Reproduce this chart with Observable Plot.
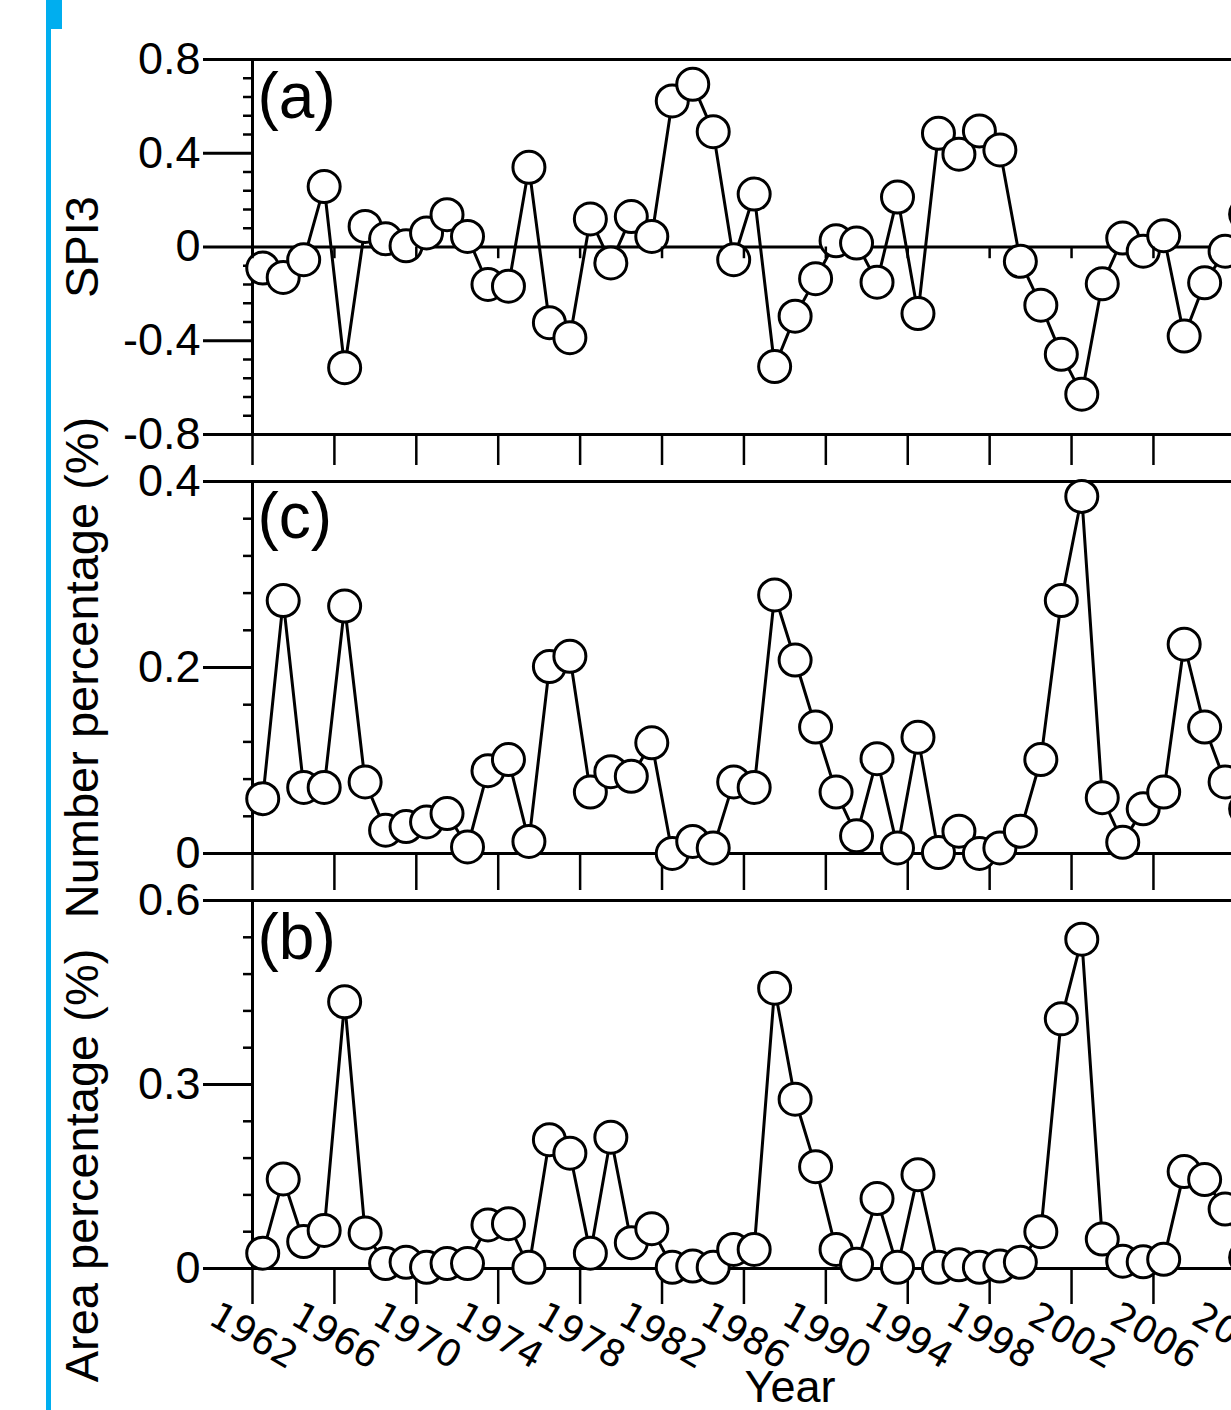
<!DOCTYPE html>
<html><head><meta charset="utf-8">
<script src="https://cdn.jsdelivr.net/npm/d3@7"></script>
<script src="https://cdn.jsdelivr.net/npm/@observablehq/plot@0.6"></script>
<style>
html,body{margin:0;padding:0;background:#fff;overflow:hidden;width:1231px;height:1410px;}
#wrap{position:relative;width:1231px;height:1410px;overflow:hidden;background:#fff;}
#wrap svg{position:absolute;left:0;top:0;}
.bar{position:absolute;background:#00AEEF;}
</style></head><body>
<div id="wrap">
<div class="bar" style="left:46px;top:0;width:5px;height:1410px"></div>
<div class="bar" style="left:46px;top:0;width:16px;height:29px"></div>
</div>
<script>
// ---- data ----
const years = [1962,1963,1964,1965,1966,1967,1968,1969,1970,1971,
  1972,1973,1974,1975,1976,1977,1978,1979,1980,1981,
  1982,1983,1984,1985,1986,1987,1988,1989,1990,1991,
  1992,1993,1994,1995,1996,1997,1998,1999,2000,2001,
  2002,2003,2004,2005,2006,2007,2008,2009,2010];
const spi3 = [-0.09,-0.13,-0.054,0.258,-0.515,0.088,0.035,0.005,0.06,0.138,
  0.045,-0.16,-0.167,0.34,-0.323,-0.387,0.12,-0.068,0.13,0.045,
  0.623,0.694,0.492,-0.054,0.226,-0.51,-0.295,-0.135,0.027,0.017,
  -0.15,0.213,-0.284,0.485,0.396,0.495,0.414,-0.061,-0.248,-0.458,
  -0.628,-0.157,0.038,-0.018,0.048,-0.38,-0.153,-0.018,0.14];
const numberPct = [0.059,0.272,0.071,0.071,0.266,0.077,0.025,0.029,0.034,0.043,
  0.007,0.089,0.101,0.013,0.201,0.212,0.066,0.088,0.083,0.119,
  0.0,0.013,0.006,0.077,0.071,0.278,0.208,0.136,0.066,0.019,
  0.102,0.006,0.125,0.001,0.024,0.0,0.006,0.024,0.101,0.272,
  0.384,0.06,0.012,0.048,0.066,0.225,0.136,0.077,0.048];
const areaPct = [0.025,0.146,0.044,0.062,0.435,0.058,0.008,0.01,0.002,0.008,
  0.008,0.071,0.073,0.002,0.21,0.188,0.025,0.214,0.042,0.065,
  0.002,0.004,0.002,0.031,0.031,0.457,0.276,0.166,0.031,0.007,
  0.114,0.002,0.153,0.002,0.006,0.002,0.004,0.01,0.06,0.407,
  0.537,0.048,0.012,0.011,0.015,0.158,0.145,0.097,0.018];
const xTicks = [1962,1966,1970,1974,1978,1982,1986,1990,1994,1998,2002,2006,2010,2014];
const xDomain = [1962, 2014.5];
const ticksA = [0.8,0.4,0,-0.4,-0.8];
const minorA = [0.72,0.64,0.56,0.48,0.32,0.24,0.16,0.08,-0.08,-0.16,-0.24,-0.32,-0.48,-0.56,-0.64,-0.72];
const ticksC = [0.4,0.2,0];
const minorC = [0.36,0.32,0.28,0.24,0.16,0.12,0.08,0.04];
const ticksB = [0.6,0.3,0];
const minorB = [0.54,0.48,0.42,0.36,0.24,0.18,0.12,0.06];

const W = 1327, ML = 252, H = 1410;
const svgStyle = "background:transparent;max-width:none;overflow:visible;font-family:'Liberation Sans',Arial,sans-serif;font-size:45px;color:black;";
const FONT = "'Liberation Sans', Arial, sans-serif";

function panel(cfg) {
  const rows = years.map((y, i) => ({year: y, v: cfg.values[i]}));
  const marks = [
    Plot.ruleY(cfg.frameY, {stroke: "black", strokeWidth: 3}),
    Plot.ruleX([xDomain[0]], {stroke: "black", strokeWidth: 3}),
    Plot.axisY(cfg.ticks, {tickSize: 49, tickPadding: 3, tickFormat: d => String(d), strokeWidth: 3, fontSize: 45, fontFamily: FONT, label: null}),
    Plot.axisY(cfg.minor, {tickSize: 9, tickFormat: () => "", strokeWidth: 2.5, label: null}),
    Plot.axisX(xTicks, {anchor: "bottom", tickSize: cfg.tickLen, tickFormat: () => "", strokeWidth: 2.5, label: null}),
    Plot.line(rows, {x: d => d.year + 0.5, y: "v", stroke: "black", strokeWidth: 3}),
    Plot.dot(rows, {x: d => d.year + 0.5, y: "v", r: 16, fill: "white", stroke: "black", strokeWidth: 3}),
    Plot.text([cfg.letter], {frameAnchor: "top-left", lineAnchor: "top", textAnchor: "start", dx: 5, dy: cfg.letterDy, fontSize: 64, fontFamily: FONT, fill: "black"}),
    Plot.text([cfg.label], {frameAnchor: "left", textAnchor: "middle", lineAnchor: "middle", dx: -170, dy: cfg.labelDy, rotate: -90, fontSize: 47, fontFamily: FONT, fill: "black"})
  ];
  if (cfg.extra) marks.push(...cfg.extra);
  const svg = Plot.plot({
    width: W, height: H,
    marginLeft: ML, marginRight: 0,
    marginTop: cfg.top, marginBottom: H - cfg.bottom,
    style: svgStyle,
    x: {domain: xDomain},
    y: {domain: cfg.domain},
    marks
  });
  document.getElementById("wrap").appendChild(svg);
}

// (a) SPI3
panel({
  values: spi3, domain: [-0.8, 0.8], ticks: ticksA, minor: minorA,
  frameY: [0.8, 0, -0.8], top: 59, bottom: 434, tickLen: 31,
  letter: "(a)", letterDy: 13, label: "SPI3", labelDy: 0,
  extra: [Plot.ruleX(xTicks, {x: d => d, y1: 0, y2: -0.05, stroke: "black", strokeWidth: 2.5})]
});
// (c) Number percentage
panel({
  values: numberPct, domain: [0, 0.4], ticks: ticksC, minor: minorC,
  frameY: [0.4, 0], top: 481, bottom: 853, tickLen: 37,
  letter: "(c)", letterDy: 11, label: "Number percentage (%)", labelDy: 0
});
// (b) Area percentage
panel({
  values: areaPct, domain: [0, 0.6], ticks: ticksB, minor: minorB,
  frameY: [0.6, 0], top: 900, bottom: 1268, tickLen: 36,
  letter: "(b)", letterDy: 13, label: "Area percentage (%)", labelDy: 81,
  extra: [
    Plot.text(xTicks, {x: d => d, frameAnchor: "bottom", text: d => String(d), rotate: 30, dx: -5, dy: 78, fontSize: 37, fontFamily: "'DejaVu Sans', sans-serif", fill: "black"}),
    Plot.text(["Year"], {frameAnchor: "bottom", dy: 133, fontSize: 45, fontFamily: FONT, fill: "black"})
  ]
});
</script>
</body></html>
